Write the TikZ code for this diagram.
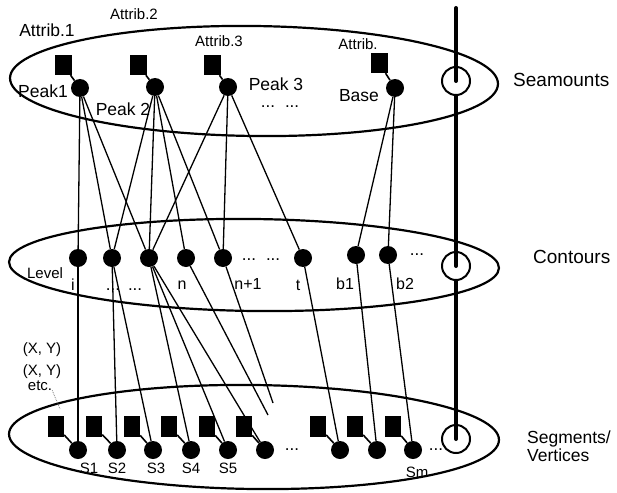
\documentclass[tikz,border=0pt]{standalone}
\usepackage{fontspec}
\setmainfont{Liberation Sans}
\newcommand{\fs}[1]{\fontsize{#1}{#1}\selectfont}
\begin{document}
\begin{tikzpicture}[x=1pt,y=-1pt,
  ell/.style={draw=black,line width=2.2pt},
  conn/.style={draw=black,line width=1.3pt},
  stub/.style={draw=black,line width=1.6pt},
  dot/.style={circle,fill=black,inner sep=0pt,minimum size=18pt},
  att/.style={rectangle,fill=black,inner sep=0pt,minimum width=17pt,minimum height=20pt},
  seg/.style={rectangle,fill=black,inner sep=0pt,minimum width=16pt,minimum height=21pt},
  ring/.style={circle,draw=black,fill=white,line width=2pt,inner sep=0pt,minimum size=28pt},
  axis/.style={draw=black,line width=4pt,line cap=round},
  leader/.style={draw=gray,densely dotted,line width=0.8pt},
  lbl/.style={inner sep=0pt,anchor=base,font=\fs{17.5}},
  sml/.style={inner sep=0pt,anchor=base,font=\fs{15}},
  cl/.style={inner sep=0pt,anchor=base,font=\fs{16}},
  big/.style={inner sep=0pt,anchor=base west,font=\fs{19}},
  dts/.style={inner sep=0pt,anchor=base,font=\fs{17}}]
\useasboundingbox (0,0) rectangle (617,492);

% layers (ellipses)
\draw[ell, rotate around={-0.7:(254,81)}] (254,81) ellipse [x radius=244, y radius=55];
\draw[ell, rotate around={-0.7:(254,265)}] (254,265) ellipse [x radius=245, y radius=46];
\draw[ell, rotate around={-0.7:(254,437)}] (254,437) ellipse [x radius=245, y radius=52];

% seamount layer
\node[att] (a1) at (63,65) {};
\node[att] (a2) at (138,65) {};
\node[att] (a3) at (212,65) {};
\node[att] (a4) at (379,63) {};
\node[dot] (p1) at (80,88) {};
\node[dot] (p2) at (155,87) {};
\node[dot] (p3) at (228,87) {};
\node[dot] (pb) at (395,88) {};

% contour layer
\node[dot] (ci) at (78,258) {};
\node[dot] (c2) at (112,258) {};
\node[dot] (c3) at (149,258) {};
\node[dot] (cn) at (186,258) {};
\node[dot] (cn1) at (223,258) {};
\node[dot] (ct) at (303,258) {};
\node[dot] (cb1) at (356,255) {};
\node[dot] (cb2) at (388,255) {};

% segment layer
\foreach \i/\x in {1/56,2/94,3/132,4/169,5/207,6/244,7/318,8/355,9/393}
  \node[seg] (sq\i) at (\x,426) {};
\foreach \i/\x in {1/78,2/117,3/153,4/191,5/228,6/265,7/340,8/377,9/413}
  \node[dot] (s\i) at (\x,450) {};
\coordinate (e1) at (268,415);
\coordinate (e2) at (273,403);

% connectors peaks -> contours
\draw[conn] (p1) -- (ci);
\draw[conn] (p1) -- (c2);
\draw[conn] (p1) -- (c3);
\draw[conn] (p2) -- (c2);
\draw[conn] (p2) -- (c3);
\draw[conn] (p2) -- (cn);
\draw[conn] (p2) -- (cn1);
\draw[conn] (p3) -- (c3);
\draw[conn] (p3) -- (cn1);
\draw[conn] (p3) -- (ct);
\draw[conn] (pb) -- (cb1);
\draw[conn] (pb) -- (cb2);

% connectors contours -> segments
\draw[conn] (ci) -- (s1);
\draw[conn] (c2) -- (s2);
\draw[conn] (c2) -- (s3);
\draw[conn] (c3) -- (s4);
\draw[conn] (c3) -- (s5);
\draw[conn] (c3) -- (s6);
\draw[conn] (cn) -- (e1);
\draw[conn] (cn1) -- (e2);
\draw[conn] (ct) -- (s7);
\draw[conn] (cb1) -- (s8);
\draw[conn] (cb2) -- (s9);

% attribute stubs
\draw[stub] (a1) -- (p1);
\draw[stub] (a2) -- (p2);
\draw[stub] (a3) -- (p3);
\draw[stub] (a4) -- (pb);
\foreach \i in {1,...,9} \draw[stub] (sq\i) -- (s\i);

% vertical axis with rings
\node[ring] (r1) at (456,81) {};
\node[ring] (r2) at (456,266) {};
\node[ring] (r3) at (456,439) {};
\coordinate (top) at (456,8);
\draw[axis] (top) -- (r1.center);
\draw[axis] (r1.south) -- (r2.center);
\draw[axis] (r2.south) -- (r3.center);

% seamount labels
\node[lbl] (t1) at (47,37) {Attrib.1};
\node[sml] (t2) at (134,20) {Attrib.2};
\node[sml] (t3) at (219,47) {Attrib.3};
\node[sml] (t4) at (358,50) {Attrib.};
\node[lbl] (l1) at (43,97) {Peak1};
\node[lbl] (l2) at (123,115) {Peak 2};
\node[lbl] (l3) at (276,91) {Peak 3};
\node[dts] (d1) at (280,107) {...\hspace{10pt}...};
\node[lbl] (lb) at (359,102) {Base};
\node[big] (sm) at (513,87) {Seamounts};

% contour labels
\node[sml] (lv) at (45,278) {Level};
\node[cl] (li) at (73,290) {i};
\node[dts] (d2) at (124,290) {...\hspace{8pt}...};
\node[cl] (ln) at (182,289) {n};
\node[cl] (ln1) at (248,289) {n+1};
\node[cl] (lt) at (298,290) {t};
\node[cl] (lb1) at (345,289) {b1};
\node[cl] (lb2) at (405,289) {b2};
\node[dts] (d3) at (261,260) {...\hspace{10pt}...};
\node[dts] (d4) at (417,255) {...};
\node[big] (ct2) at (533,263) {Contours};

% segment labels
\node[sml] (xy1) at (42,353) {(X, Y)};
\node[sml] (xy2) at (42,375) {(X, Y)};
\node[sml] (etc) at (40,390) {etc.};
\coordinate (lead) at (60,409);
\draw[leader] (etc.south east) -- (lead);
\node[sml] (ls1) at (89,473) {S1};
\node[sml] (ls2) at (117,473) {S2};
\node[sml] (ls3) at (156,473) {S3};
\node[sml] (ls4) at (191,473) {S4};
\node[sml] (ls5) at (228,473) {S5};
\node[sml] (lsm) at (417,477) {Sm};
\node[dts] (d5) at (292,450) {...};
\node[dts] (d6) at (436,450) {...};
\node[big,font=\fs{17.5}] (sg) at (527,443) {Segments/};
\node[big,font=\fs{17.5}] (vt) at (527,461) {Vertices};
\end{tikzpicture}
\end{document}
